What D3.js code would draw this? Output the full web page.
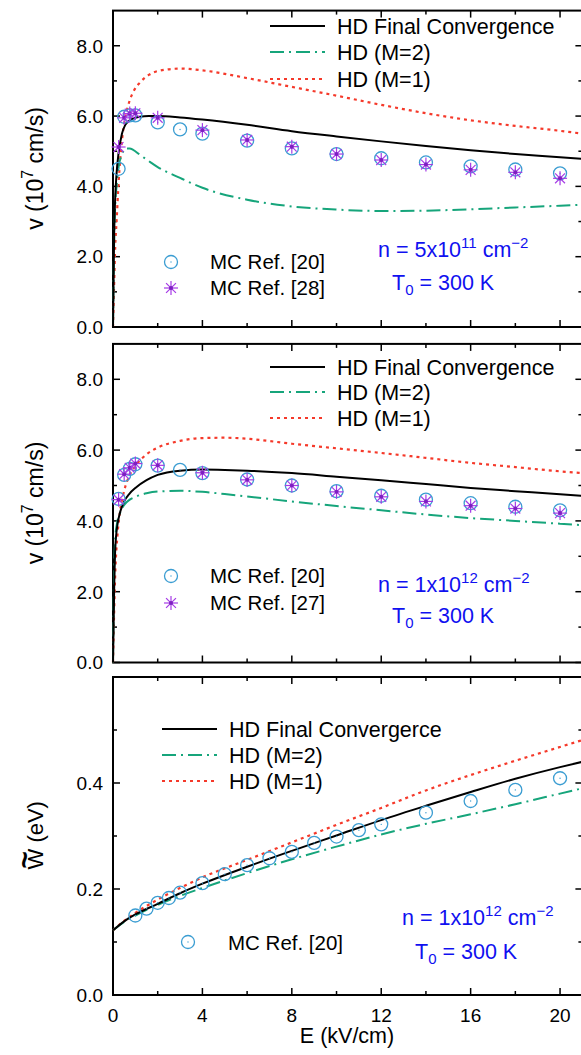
<!DOCTYPE html>
<html><head><meta charset="utf-8">
<script src="https://cdn.jsdelivr.net/npm/d3@7"></script>
<style>
html,body{margin:0;padding:0;background:#fff;}
svg{display:block;font-family:"Liberation Sans",Arial,Helvetica,sans-serif;}
</style></head>
<body>
<svg id="c" width="581" height="1055"></svg>
<script>
// ---------- DATA ----------
const xTicksMajor = [0, 4, 8, 12, 16, 20];
const xTicksMinor = [2, 6, 10, 14, 18];
const vTicksMajor = [0, 2, 4, 6, 8];
const vTicksMinor = [1, 3, 5, 7];
const wTicksMajor = [0, 0.2, 0.4];
const wTicksMinor = [0.1, 0.3, 0.5];

// Panel 1 : n = 5x10^11
const p1E = [0, 0.05, 0.1, 0.16, 0.25, 0.4, 0.55, 0.75, 0.9, 1.2, 1.6, 2, 3, 4, 6, 8, 10, 12, 14, 16, 18, 20, 21];
const p1Final = [0, 2.6, 3.7, 4.37, 4.95, 5.5, 5.75, 5.88, 5.93, 5.98, 6.0, 6.0, 5.96, 5.9, 5.75, 5.57, 5.42, 5.28, 5.15, 5.03, 4.92, 4.83, 4.78];
const p1M2 = [0, 2.4, 3.5, 4.0, 4.55, 4.9, 5.08, 5.08, 5.04, 4.9, 4.72, 4.55, 4.24, 3.96, 3.62, 3.43, 3.34, 3.3, 3.31, 3.35, 3.4, 3.45, 3.48];
const p1M1 = [0, 1.2, 2.3, 3.0, 4.1, 5.3, 5.95, 6.45, 6.68, 6.95, 7.17, 7.28, 7.35, 7.3, 7.08, 6.83, 6.58, 6.32, 6.08, 5.88, 5.72, 5.58, 5.5];
const p1C_E = [0.25, 0.5, 0.75, 1.0, 2, 3, 4, 6, 8, 10, 12, 14, 16, 18, 20];
const p1C_v = [4.5, 5.98, 6.02, 6.02, 5.82, 5.62, 5.5, 5.3, 5.08, 4.92, 4.8, 4.68, 4.57, 4.48, 4.37];
const p1S_E = [0.25, 0.5, 0.75, 1.0, 2, 4, 6, 8, 10, 12, 14, 16, 18, 20];
const p1S_v = [5.12, 5.95, 6.07, 6.08, 5.95, 5.6, 5.32, 5.13, 4.92, 4.75, 4.62, 4.47, 4.4, 4.23];

// Panel 2 : n = 1x10^12
const p2E = [0, 0.05, 0.1, 0.2, 0.3, 0.5, 0.75, 1, 1.5, 2, 3, 4, 5, 6, 8, 10, 12, 14, 16, 18, 20, 21];
const p2Final = [0, 2.0, 3.2, 3.9, 4.2, 4.55, 4.78, 4.93, 5.15, 5.3, 5.42, 5.45, 5.44, 5.42, 5.35, 5.25, 5.15, 5.04, 4.93, 4.84, 4.75, 4.71];
const p2M2 = [0, 2.5, 3.5, 4.0, 4.2, 4.45, 4.6, 4.68, 4.78, 4.83, 4.85, 4.82, 4.76, 4.69, 4.55, 4.42, 4.3, 4.18, 4.08, 4.0, 3.92, 3.88];
const p2M1 = [0, 1.4, 2.5, 3.6, 4.2, 4.85, 5.3, 5.55, 5.88, 6.07, 6.26, 6.34, 6.35, 6.32, 6.18, 6.05, 5.92, 5.78, 5.64, 5.52, 5.4, 5.35];
const p2C_E = [0.25, 0.5, 0.75, 1.0, 2, 3, 4, 6, 8, 10, 12, 14, 16, 18, 20];
const p2C_v = [4.62, 5.3, 5.47, 5.6, 5.56, 5.44, 5.35, 5.17, 5.0, 4.84, 4.71, 4.6, 4.5, 4.4, 4.3];
const p2S_E = [0.25, 0.5, 0.75, 1.0, 2, 4, 6, 8, 10, 12, 14, 16, 18, 20];
const p2S_v = [4.6, 5.32, 5.5, 5.62, 5.57, 5.36, 5.16, 5.0, 4.82, 4.68, 4.55, 4.43, 4.35, 4.22];

// Panel 3 : mean energy W (eV), n = 1x10^12
const p3E = [0, 0.5, 1, 2, 3, 4, 6, 8, 10, 12, 14, 16, 18, 20, 21];
const p3Final = [0.122, 0.139, 0.152, 0.172, 0.192, 0.21, 0.242, 0.272, 0.301, 0.33, 0.357, 0.383, 0.408, 0.43, 0.44];
const p3M2 = [0.122, 0.138, 0.15, 0.17, 0.187, 0.202, 0.23, 0.256, 0.28, 0.303, 0.323, 0.341, 0.36, 0.38, 0.39];
const p3M1 = [0.122, 0.14, 0.155, 0.18, 0.202, 0.222, 0.255, 0.288, 0.321, 0.353, 0.386, 0.415, 0.442, 0.468, 0.481];
const p3C_E = [1, 1.5, 2, 2.5, 3, 4, 5, 6, 7, 8, 9, 10, 11, 12, 14, 16, 18, 20];
const p3C_w = [0.15, 0.163, 0.174, 0.183, 0.193, 0.211, 0.228, 0.245, 0.258, 0.27, 0.287, 0.299, 0.311, 0.322, 0.344, 0.366, 0.387, 0.409];

// ---------- DRAW ----------
const svg = d3.select("#c");
const FONT = '"Liberation Sans", Arial, Helvetica, sans-serif';
const COL_BLACK = "#000", COL_GREEN = "#16a57b", COL_RED = "#f5392a";
const COL_CIRC = "#3b9dd2", COL_STAR = "#a63be6", COL_BLUE = "#1010f0";

const x = d3.scaleLinear().domain([0, 21]).range([113, 582.4]);

const panels = [
  {top: 10.6, bottom: 327, dom: [0, 9], major: vTicksMajor, minor: vTicksMinor, fmt: d3.format(".1f")},
  {top: 343.9, bottom: 662.5, dom: [0, 9], major: vTicksMajor, minor: vTicksMinor, fmt: d3.format(".1f")},
  {top: 677, bottom: 995, dom: [0, 0.6], major: wTicksMajor, minor: wTicksMinor, fmt: d3.format(".1f")}
];

function drawFrame(p, showX) {
  const y = d3.scaleLinear().domain(p.dom).range([p.bottom, p.top]);
  p.y = y;
  const g = svg.append("g");
  const left = x(0), right = x(21);
  const tk = (arr, len) => arr.forEach(v => {
    g.append("line").attr("x1", left).attr("x2", left + len).attr("y1", y(v)).attr("y2", y(v)).attr("stroke", "#000").attr("stroke-width", 1.5);
    g.append("line").attr("x1", right).attr("x2", right - len).attr("y1", y(v)).attr("y2", y(v)).attr("stroke", "#000").attr("stroke-width", 1.5);
  });
  tk(p.major, 7); tk(p.minor, 4);
  const tx = (arr, len) => arr.forEach(v => {
    g.append("line").attr("x1", x(v)).attr("x2", x(v)).attr("y1", p.bottom).attr("y2", p.bottom - len).attr("stroke", "#000").attr("stroke-width", 1.5);
    g.append("line").attr("x1", x(v)).attr("x2", x(v)).attr("y1", p.top).attr("y2", p.top + len).attr("stroke", "#000").attr("stroke-width", 1.5);
  });
  tx(xTicksMajor, 7); tx(xTicksMinor, 4);
  g.append("rect").attr("x", left).attr("y", p.top).attr("width", right - left).attr("height", p.bottom - p.top)
    .attr("fill", "none").attr("stroke", "#000").attr("stroke-width", 2);
  p.major.forEach(v => {
    g.append("text").attr("x", 103).attr("y", y(v) + 6.8).attr("text-anchor", "end")
      .attr("font-size", 19).attr("font-family", FONT).text(p.fmt(v));
  });
  if (showX) {
    xTicksMajor.forEach(v => {
      g.append("text").attr("x", x(v)).attr("y", p.bottom + 27).attr("text-anchor", "middle")
        .attr("font-size", 19).attr("font-family", FONT).text(v);
    });
  }
  return y;
}

function curve(E, V, y, color, dash, width) {
  const line = d3.line().x(d => x(d[0])).y(d => y(d[1])).curve(d3.curveMonotoneX);
  svg.append("path").attr("d", line(d3.zip(E, V))).attr("fill", "none")
    .attr("stroke", color).attr("stroke-width", width).attr("stroke-dasharray", dash);
}
const DASH_DOT = "14,5,2,5", DOTTED = "3,4";

function circleMark(cx, cy) {
  svg.append("circle").attr("cx", cx).attr("cy", cy).attr("r", 6.5).attr("fill", "none").attr("stroke", COL_CIRC).attr("stroke-width", 1.3);
  svg.append("circle").attr("cx", cx).attr("cy", cy).attr("r", 0.7).attr("fill", COL_CIRC);
}
function starMark(cx, cy) {
  const r = 7;
  [0, 45, 90, 135].forEach(a => {
    const dx = r * Math.cos(a * Math.PI / 180), dy = r * Math.sin(a * Math.PI / 180);
    svg.append("line").attr("x1", cx - dx).attr("y1", cy - dy).attr("x2", cx + dx).attr("y2", cy + dy)
      .attr("stroke", COL_STAR).attr("stroke-width", 1.2);
  });
  svg.append("circle").attr("cx", cx).attr("cy", cy).attr("r", 2).attr("fill", "#7d1fc0");
}

function legendLines(x1, x2, tx, rows, labels) {
  const styles = [[COL_BLACK, null, 2], [COL_GREEN, DASH_DOT, 2], [COL_RED, DOTTED, 2.2]];
  rows.forEach((ry, i) => {
    svg.append("line").attr("x1", x1).attr("x2", x2).attr("y1", ry).attr("y2", ry)
      .attr("stroke", styles[i][0]).attr("stroke-width", styles[i][2]).attr("stroke-dasharray", styles[i][1]);
    svg.append("text").attr("x", tx).attr("y", ry + 7.5).attr("font-size", 21.5).attr("font-family", FONT).text(labels[i]);
  });
}

function annotation(xn, yn, xt, yt, expo) {
  const t1 = svg.append("text").attr("x", xn).attr("y", yn).attr("font-size", 21.5).attr("font-family", FONT).attr("fill", COL_BLUE);
  t1.append("tspan").text("n = " + expo[0] + "x10");
  t1.append("tspan").attr("font-size", 15).attr("dy", -9).text(expo[1]);
  t1.append("tspan").attr("dy", 9).text(" cm");
  t1.append("tspan").attr("font-size", 15).attr("dy", -9).text("\u22122");
  const t2 = svg.append("text").attr("x", xt).attr("y", yt).attr("font-size", 21.5).attr("font-family", FONT).attr("fill", COL_BLUE);
  t2.append("tspan").text("T");
  t2.append("tspan").attr("font-size", 15).attr("dy", 5).text("0");
  t2.append("tspan").attr("dy", -5).text(" = 300 K");
}

// Panel 1
let y1 = drawFrame(panels[0], false);
curve(p1E, p1M1, y1, COL_RED, DOTTED, 2.2);
curve(p1E, p1M2, y1, COL_GREEN, DASH_DOT, 2);
curve(p1E, p1Final, y1, COL_BLACK, null, 2);
p1C_E.forEach((e, i) => circleMark(x(e), y1(p1C_v[i])));
p1S_E.forEach((e, i) => starMark(x(e), y1(p1S_v[i])));
legendLines(270, 325, 337, [26, 52, 79], ["HD Final Convergence", "HD (M=2)", "HD (M=1)"]);
circleMark(171, 262); starMark(171, 288);
svg.append("text").attr("x", 210).attr("y", 269).attr("font-size", 20.5).attr("font-family", FONT).text("MC Ref. [20]");
svg.append("text").attr("x", 210).attr("y", 295).attr("font-size", 20.5).attr("font-family", FONT).text("MC Ref. [28]");
annotation(378, 257, 392, 290, ["5", "11"]);

// Panel 2
let y2 = drawFrame(panels[1], false);
curve(p2E, p2M1, y2, COL_RED, DOTTED, 2.2);
curve(p2E, p2M2, y2, COL_GREEN, DASH_DOT, 2);
curve(p2E, p2Final, y2, COL_BLACK, null, 2);
p2C_E.forEach((e, i) => circleMark(x(e), y2(p2C_v[i])));
p2S_E.forEach((e, i) => starMark(x(e), y2(p2S_v[i])));
legendLines(270, 325, 337, [367, 392, 418], ["HD Final Convergence", "HD (M=2)", "HD (M=1)"]);
circleMark(171, 576); starMark(171, 603);
svg.append("text").attr("x", 210).attr("y", 583).attr("font-size", 20.5).attr("font-family", FONT).text("MC Ref. [20]");
svg.append("text").attr("x", 210).attr("y", 610).attr("font-size", 20.5).attr("font-family", FONT).text("MC Ref. [27]");
annotation(378, 592, 392, 623, ["1", "12"]);

// Panel 3
let y3 = drawFrame(panels[2], true);
curve(p3E, p3M1, y3, COL_RED, DOTTED, 2.2);
curve(p3E, p3M2, y3, COL_GREEN, DASH_DOT, 2);
curve(p3E, p3Final, y3, COL_BLACK, null, 2);
p3C_E.forEach((e, i) => circleMark(x(e), y3(p3C_w[i])));
legendLines(162, 217, 229, [729, 755, 781], ["HD Final Convergerce", "HD (M=2)", "HD (M=1)"]);
circleMark(188, 942);
svg.append("text").attr("x", 228).attr("y", 950).attr("font-size", 20.5).attr("font-family", FONT).text("MC Ref. [20]");
annotation(402, 925, 415, 959, ["1", "12"]);

// Axis titles
function vTitle(cy) {
  const t = svg.append("text").attr("transform", `translate(43,${cy}) rotate(-90)`).attr("text-anchor", "middle")
    .attr("font-size", 23).attr("font-family", FONT);
  t.append("tspan").text("v (10");
  t.append("tspan").attr("font-size", 16).attr("dy", -10).text("7");
  t.append("tspan").attr("dy", 10).text(" cm/s)");
}
vTitle(168.5);
vTitle(503);
const wg = svg.append("g").attr("transform", "translate(43,836.5) rotate(-90)");
wg.append("text").attr("x", -33).attr("y", 0).attr("font-size", 22).attr("font-family", FONT).text("W (eV)");
wg.append("text").attr("x", -23.5).attr("y", -8).attr("text-anchor", "middle").attr("font-size", 30).attr("font-weight", "bold").attr("font-family", FONT).text("~");
svg.append("text").attr("x", 347).attr("y", 1043).attr("text-anchor", "middle").attr("font-size", 21.5).attr("font-family", FONT).text("E (kV/cm)");
</script>
</body></html>
